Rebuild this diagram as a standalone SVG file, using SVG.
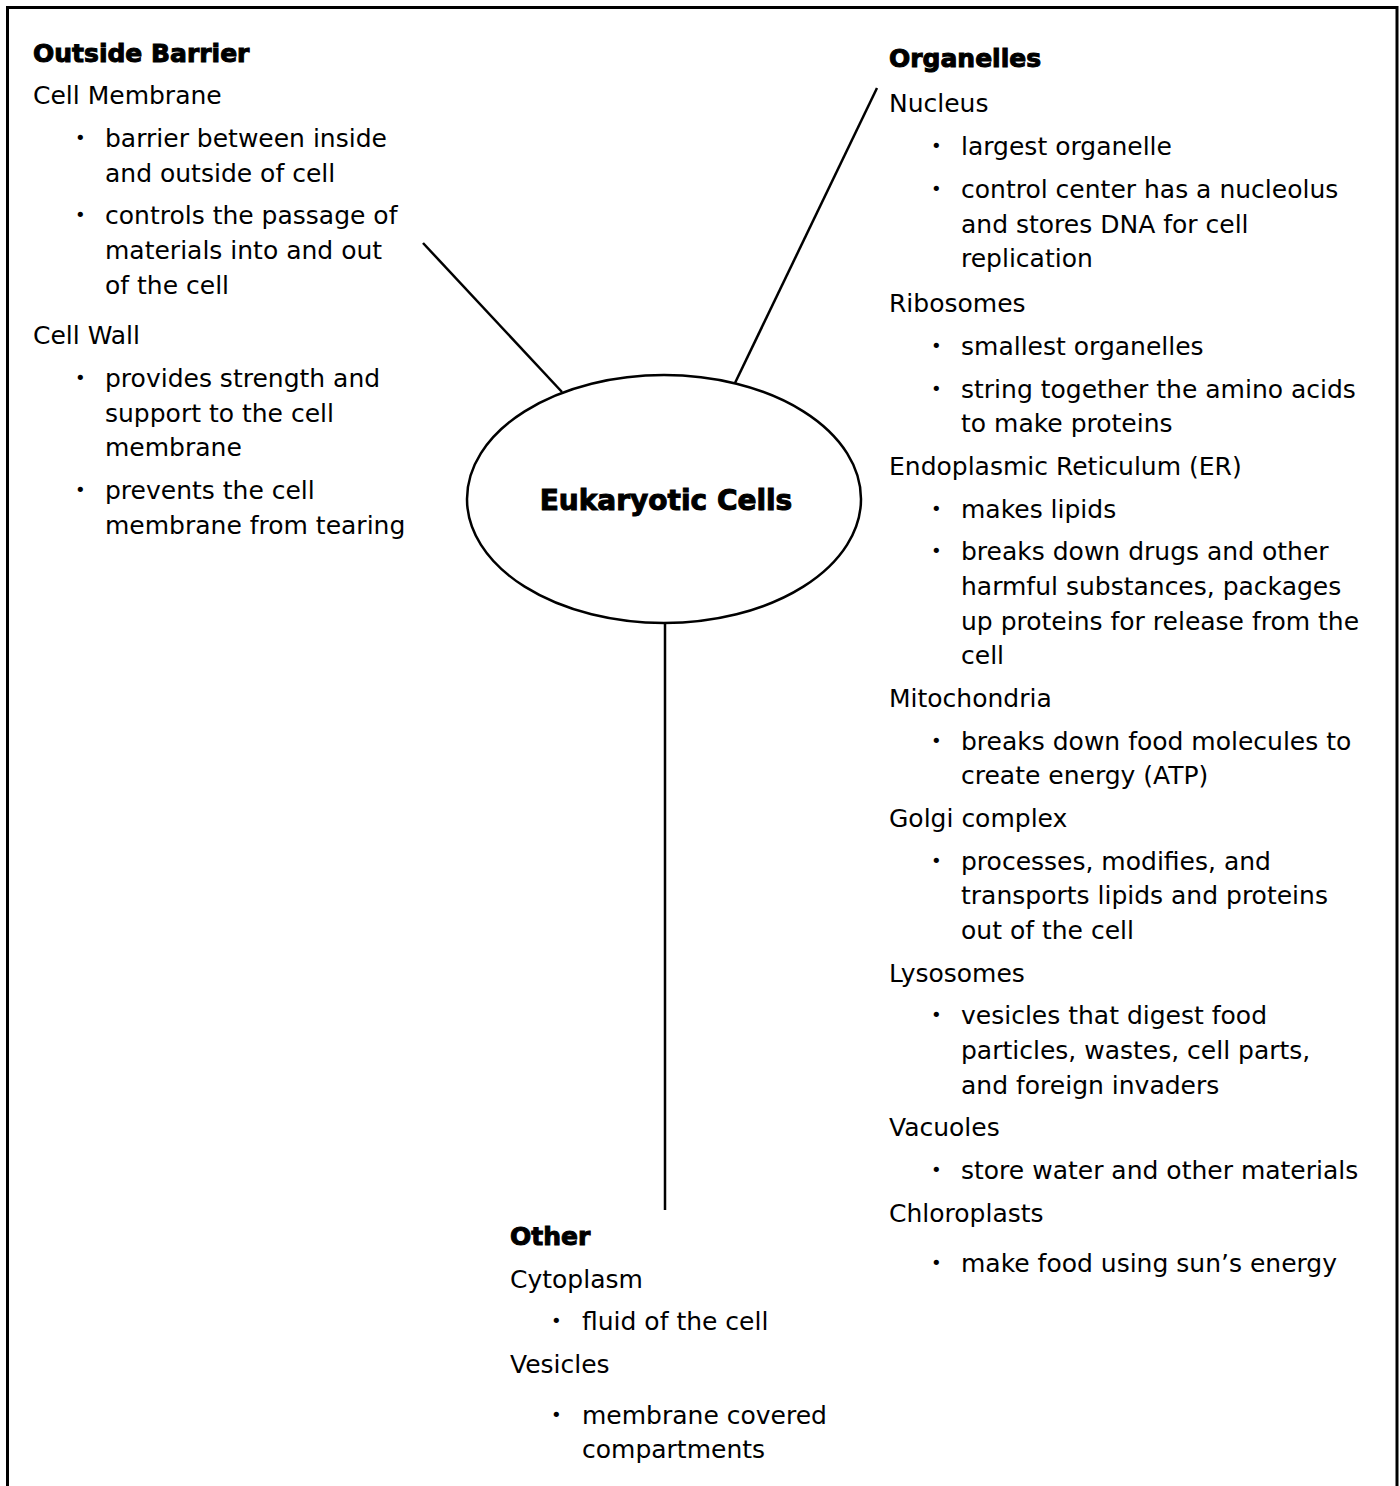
<svg xmlns="http://www.w3.org/2000/svg" width="1400" height="1486" viewBox="0 0 1400 1486">
<style>
.t{font-family:"DejaVu Sans","Liberation Sans",sans-serif;font-size:25px;fill:#000}
.h{font-family:"DejaVu Sans","Liberation Sans",sans-serif;font-size:25px;font-weight:bold;fill:#000;stroke:#000;stroke-width:1}
.b{font-family:"DejaVu Sans","Liberation Sans",sans-serif;font-size:18px;fill:#000}
.ln{stroke:#000;stroke-width:2.5;fill:none}
</style>
<rect x="0" y="0" width="1400" height="1486" fill="#fff"/>
<path d="M7.5,1490 V7.5 H1397 V1490" fill="none" stroke="#000" stroke-width="3"/>
<g id="connectors">
<line class="ln" x1="423" y1="243" x2="562" y2="392"/>
<line class="ln" x1="877" y1="88" x2="735" y2="383"/>
<line class="ln" x1="665" y1="624" x2="665" y2="1210"/>
</g>
<g id="center">
<ellipse cx="664" cy="499" rx="197" ry="124" fill="#fff" stroke="#000" stroke-width="2.5"/>
<text class="h" x="666" y="510" text-anchor="middle" style="font-size:28px">Eukaryotic Cells</text>
</g>
<g id="outside-barrier">
<text class="h" x="33" y="62">Outside Barrier</text>
<text class="t" x="33" y="104">Cell Membrane</text>
<text class="b" x="75" y="144">•</text>
<text class="t" x="105" y="147">barrier between inside</text>
<text class="t" x="105" y="182">and outside of cell</text>
<text class="b" x="75" y="221">•</text>
<text class="t" x="105" y="224">controls the passage of</text>
<text class="t" x="105" y="259">materials into and out</text>
<text class="t" x="105" y="294">of the cell</text>
<text class="t" x="33" y="344">Cell Wall</text>
<text class="b" x="75" y="384">•</text>
<text class="t" x="105" y="387">provides strength and</text>
<text class="t" x="105" y="422">support to the cell</text>
<text class="t" x="105" y="456">membrane</text>
<text class="b" x="75" y="496">•</text>
<text class="t" x="105" y="499">prevents the cell</text>
<text class="t" x="105" y="534">membrane from tearing</text>
</g>
<g id="organelles">
<text class="h" x="889" y="67">Organelles</text>
<text class="t" x="889" y="112">Nucleus</text>
<text class="b" x="931" y="152">•</text>
<text class="t" x="961" y="155">largest organelle</text>
<text class="b" x="931" y="195">•</text>
<text class="t" x="961" y="198">control center has a nucleolus</text>
<text class="t" x="961" y="233">and stores DNA for cell</text>
<text class="t" x="961" y="267">replication</text>
<text class="t" x="889" y="312">Ribosomes</text>
<text class="b" x="931" y="352">•</text>
<text class="t" x="961" y="355">smallest organelles</text>
<text class="b" x="931" y="395">•</text>
<text class="t" x="961" y="398">string together the amino acids</text>
<text class="t" x="961" y="432">to make proteins</text>
<text class="t" x="889" y="475">Endoplasmic Reticulum (ER)</text>
<text class="b" x="931" y="515">•</text>
<text class="t" x="961" y="518">makes lipids</text>
<text class="b" x="931" y="557">•</text>
<text class="t" x="961" y="560">breaks down drugs and other</text>
<text class="t" x="961" y="595">harmful substances, packages</text>
<text class="t" x="961" y="630">up proteins for release from the</text>
<text class="t" x="961" y="664">cell</text>
<text class="t" x="889" y="707">Mitochondria</text>
<text class="b" x="931" y="747">•</text>
<text class="t" x="961" y="750">breaks down food molecules to</text>
<text class="t" x="961" y="784">create energy (ATP)</text>
<text class="t" x="889" y="827">Golgi complex</text>
<text class="b" x="931" y="867">•</text>
<text class="t" x="961" y="870">processes, modifies, and</text>
<text class="t" x="961" y="904">transports lipids and proteins</text>
<text class="t" x="961" y="939">out of the cell</text>
<text class="t" x="889" y="982">Lysosomes</text>
<text class="b" x="931" y="1021">•</text>
<text class="t" x="961" y="1024">vesicles that digest food</text>
<text class="t" x="961" y="1059">particles, wastes, cell parts,</text>
<text class="t" x="961" y="1094">and foreign invaders</text>
<text class="t" x="889" y="1136">Vacuoles</text>
<text class="b" x="931" y="1176">•</text>
<text class="t" x="961" y="1179">store water and other materials</text>
<text class="t" x="889" y="1222">Chloroplasts</text>
<text class="b" x="931" y="1269">•</text>
<text class="t" x="961" y="1272">make food using sun’s energy</text>
</g>
<g id="other">
<text class="h" x="510" y="1245">Other</text>
<text class="t" x="510" y="1288">Cytoplasm</text>
<text class="b" x="551" y="1327">•</text>
<text class="t" x="582" y="1330">fluid of the cell</text>
<text class="t" x="510" y="1373">Vesicles</text>
<text class="b" x="551" y="1421">•</text>
<text class="t" x="582" y="1424">membrane covered</text>
<text class="t" x="582" y="1458">compartments</text>
</g>
</svg>
